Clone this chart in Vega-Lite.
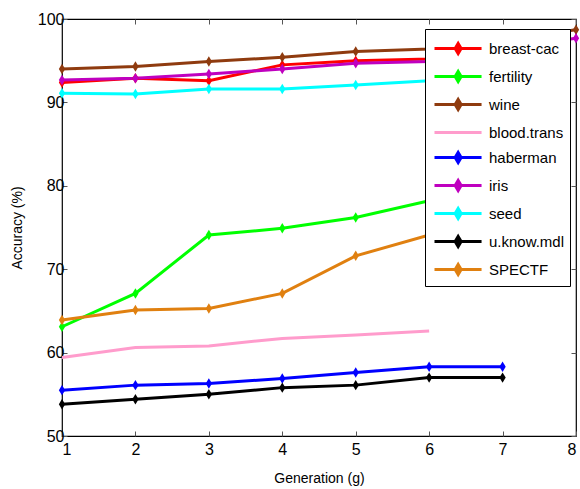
{
  "$schema": "https://vega.github.io/schema/vega-lite/v6.json",
  "width": 514,
  "height": 417,
  "autosize": "none",
  "padding": {"left": 62, "top": 19, "right": 4, "bottom": 53},
  "background": "white",
  "config": {
    "view": {"stroke": "#000", "strokeWidth": 1.2},
    "font": "Liberation Sans",
    "axis": {
      "domain": false, "grid": false, "tickSize": -5, "tickColor": "#555", "tickWidth": 1,
      "labelFont": "Liberation Sans", "labelFontSize": 16, "labelColor": "#000",
      "titleFont": "Liberation Sans", "titleFontSize": 14, "titleFontWeight": "normal", "titleColor": "#000"
    }
  },
  "data": {"values": [
    {"g":1,"series":"breast-cac","acc":92.4},{"g":2,"series":"breast-cac","acc":92.9},{"g":3,"series":"breast-cac","acc":92.6},{"g":4,"series":"breast-cac","acc":94.5},{"g":5,"series":"breast-cac","acc":95.0},{"g":6,"series":"breast-cac","acc":95.2},{"g":7,"series":"breast-cac","acc":95.8},
    {"g":1,"series":"fertility","acc":63.1},{"g":2,"series":"fertility","acc":67.1},{"g":3,"series":"fertility","acc":74.1},{"g":4,"series":"fertility","acc":74.9},{"g":5,"series":"fertility","acc":76.2},{"g":6,"series":"fertility","acc":78.2},{"g":7,"series":"fertility","acc":79.0},
    {"g":1,"series":"wine","acc":94.0},{"g":2,"series":"wine","acc":94.3},{"g":3,"series":"wine","acc":94.9},{"g":4,"series":"wine","acc":95.4},{"g":5,"series":"wine","acc":96.1},{"g":6,"series":"wine","acc":96.4},{"g":7,"series":"wine","acc":97.5},{"g":8,"series":"wine","acc":98.7},
    {"g":1,"series":"blood.trans","acc":59.4},{"g":2,"series":"blood.trans","acc":60.6},{"g":3,"series":"blood.trans","acc":60.8},{"g":4,"series":"blood.trans","acc":61.7},{"g":5,"series":"blood.trans","acc":62.1},{"g":6,"series":"blood.trans","acc":62.6},
    {"g":1,"series":"haberman","acc":55.5},{"g":2,"series":"haberman","acc":56.1},{"g":3,"series":"haberman","acc":56.3},{"g":4,"series":"haberman","acc":56.9},{"g":5,"series":"haberman","acc":57.6},{"g":6,"series":"haberman","acc":58.3},{"g":7,"series":"haberman","acc":58.3},
    {"g":1,"series":"iris","acc":92.7},{"g":2,"series":"iris","acc":92.9},{"g":3,"series":"iris","acc":93.4},{"g":4,"series":"iris","acc":94.0},{"g":5,"series":"iris","acc":94.7},{"g":6,"series":"iris","acc":94.9},{"g":7,"series":"iris","acc":96.5},{"g":8,"series":"iris","acc":97.7},
    {"g":1,"series":"seed","acc":91.1},{"g":2,"series":"seed","acc":91.0},{"g":3,"series":"seed","acc":91.6},{"g":4,"series":"seed","acc":91.6},{"g":5,"series":"seed","acc":92.1},{"g":6,"series":"seed","acc":92.6},{"g":7,"series":"seed","acc":93.0},
    {"g":1,"series":"u.know.mdl","acc":53.8},{"g":2,"series":"u.know.mdl","acc":54.4},{"g":3,"series":"u.know.mdl","acc":55.0},{"g":4,"series":"u.know.mdl","acc":55.8},{"g":5,"series":"u.know.mdl","acc":56.1},{"g":6,"series":"u.know.mdl","acc":57.0},{"g":7,"series":"u.know.mdl","acc":57.0},
    {"g":1,"series":"SPECTF","acc":63.9},{"g":2,"series":"SPECTF","acc":65.1},{"g":3,"series":"SPECTF","acc":65.3},{"g":4,"series":"SPECTF","acc":67.1},{"g":5,"series":"SPECTF","acc":71.6},{"g":6,"series":"SPECTF","acc":74.1},{"g":7,"series":"SPECTF","acc":75.0}
  ]},
  "layer": [
    {
      "mark": {"type": "line", "strokeWidth": 3},
      "encoding": {
        "x": {"field": "g", "type": "quantitative", "scale": {"domain": [1, 8], "nice": false, "zero": false},
              "axis": {"orient": "bottom", "values": [1,2,3,4,5,6,7,8], "title": "Generation (g)", "labelPadding": 10, "titlePadding": 14}},
        "y": {"field": "acc", "type": "quantitative", "scale": {"domain": [50, 100], "nice": false, "zero": false},
              "axis": {"orient": "left", "values": [50,60,70,80,90,100], "title": "Accuracy (%)", "labelPadding": 3, "titlePadding": 13}},
        "color": {"field": "series", "type": "nominal",
          "scale": {"domain": ["breast-cac","fertility","wine","blood.trans","haberman","iris","seed","u.know.mdl","SPECTF"],
                    "range": ["#ff0000","#00ff00","#8f3b0f","#ff9ccc","#0000ff","#bf00bf","#00ffff","#000000","#e08010"]},
          "legend": {
            "title": null, "orient": "none", "legendX": 363, "legendY": 10,
            "strokeColor": "#000", "fillColor": "#fff", "padding": 5,
            "symbolType": "M-0.77,0H2.85", "symbolSize": 676, "symbolStrokeWidth": 3,
            "labelFont": "Liberation Sans", "labelFontSize": 15, "labelColor": "#000",
            "labelOffset": 30, "rowPadding": 2,
            "encode": {"symbols": {"update": {
              "shape": {"signal": "datum.value === 'blood.trans' ? 'M-0.77,0H2.85' : 'M-0.77,0H2.85M1.05,-0.385L1.28,0L1.05,0.385L0.82,0Z'"},
              "fill": {"scale": "color", "field": "value"},
              "stroke": {"scale": "color", "field": "value"},
              "strokeWidth": {"value": 3}
            }}}
          }
        }
      }
    },
    {
      "transform": [{"filter": "datum.series !== 'blood.trans'"}],
      "mark": {"type": "point", "filled": true, "opacity": 1, "shape": "M0,-1L0.6,0L0,1L-0.6,0Z", "size": 110},
      "encoding": {
        "x": {"field": "g", "type": "quantitative", "axis": {"orient": "top", "values": [1,2,3,4,5,6,7,8], "labels": false, "title": null}},
        "y": {"field": "acc", "type": "quantitative", "axis": {"orient": "right", "values": [50,60,70,80,90,100], "labels": false, "title": null}},
        "color": {"field": "series", "type": "nominal", "legend": null}
      }
    }
  ],
  "resolve": {"axis": {"x": "independent", "y": "independent"}}
}
